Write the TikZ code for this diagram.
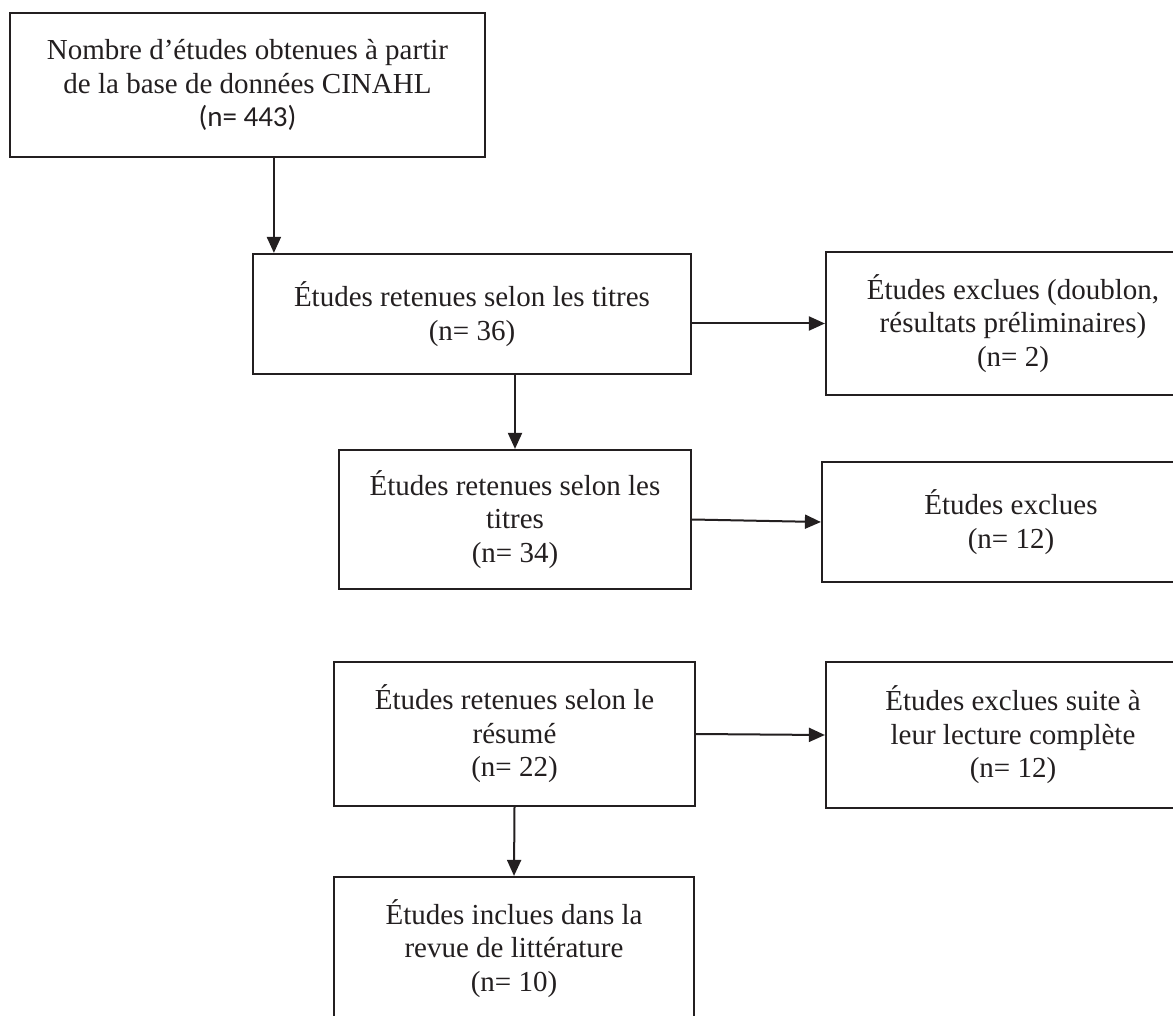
\documentclass[tikz,border=0pt]{standalone}
\usepackage{fontspec}
\setmainfont{Liberation Serif}
\newfontfamily\calib{Carlito}
\usetikzlibrary{arrows.meta}
\definecolor{ink}{HTML}{231F20}
\begin{document}
\begin{tikzpicture}[x=1pt,y=-1pt,
  box/.style={draw=ink, line width=2.2pt, rectangle, inner sep=0pt, align=center,
    text=ink, font=\fontsize{29}{33.5}\selectfont},
  conn/.style={draw=ink, line width=2pt, -{Triangle[length=16pt,width=14pt]}}]
\useasboundingbox (0,0) rectangle (1173,1016);
\fill[white] (0,0) rectangle (1173,1016);
\node[box, minimum width=475pt, minimum height=144pt] (b1) at (247.5,85)
  {Nombre d’études obtenues à partir\\de la base de données CINAHL\\{\calib (n= 443)}};
\node[box, minimum width=438pt, minimum height=120pt] (b2) at (472,314)
  {Études retenues selon les titres\\(n= 36)};
\node[box, minimum width=374pt, minimum height=143pt] (b3) at (1013,323.5)
  {Études exclues (doublon,\\résultats préliminaires)\\(n= 2)};
\node[box, minimum width=352pt, minimum height=139pt] (b4) at (515,519.5)
  {Études retenues selon les\\titres\\(n= 34)};
\node[box, minimum width=378pt, minimum height=120pt] (b5) at (1011,522)
  {Études exclues\\(n= 12)};
\node[box, minimum width=361pt, minimum height=144pt] (b6) at (514.5,734)
  {Études retenues selon le\\résumé\\(n= 22)};
\node[box, minimum width=374pt, minimum height=146pt] (b8) at (1013,735)
  {Études exclues suite à\\leur lecture complète\\(n= 12)};
\node[box, minimum width=360pt, minimum height=143pt] (b7) at (514,948.5)
  {Études inclues dans la\\revue de littérature\\(n= 10)};
\draw[conn] ([xshift=22pt]b2.north west |- b1.south) -- ([xshift=22pt]b2.north west);
\draw[conn] (b2.east |- b3.west) -- (b3.west);
\draw[conn] (b4.north |- b2.south) -- (b4.north);
\draw[conn] (b4.east) -- (b5.west);
\draw[conn] (b6.east) -- (b8.west);
\draw[conn] (b6.south) -- (b7.north);
\end{tikzpicture}
\end{document}
